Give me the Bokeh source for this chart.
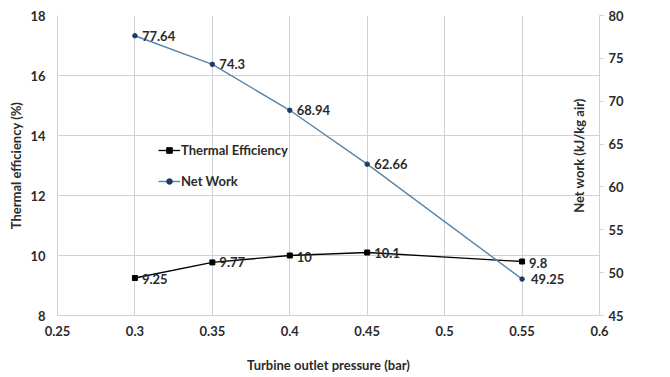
from bokeh.plotting import figure
from bokeh.models import Range1d, LinearAxis, FixedTicker, Legend, LegendItem, Label
from bokeh.core.properties import value
from bokeh.embed import file_html
from bokeh.resources import INLINE
import math

pressure = [0.3, 0.35, 0.4, 0.45, 0.55]
thermal_eff = [9.25, 9.77, 10, 10.1, 9.8]
net_work = [77.64, 74.3, 68.94, 62.66, 49.25]
thermal_labels = ["9.25", "9.77", "10", "10.1", "9.8"]
net_labels = ["77.64", "74.3", "68.94", "62.66", "49.25"]

x_ticks = [0.25, 0.3, 0.35, 0.4, 0.45, 0.5, 0.55, 0.6]
x_tick_labels = ["0.25", "0.3", "0.35", "0.4", "0.45", "0.5", "0.55", "0.6"]
left_ticks = [8, 10, 12, 14, 16, 18]
right_ticks = [45, 50, 55, 60, 65, 70, 75, 80]

FONT = "Lato"
FS = "13px"
TXT = "#2b2b2b"
GRID = "#c8d3dc"
BLUE = "#5a84a6"
NAVY = "#1f3a66"

p = figure(width=670, height=377, output_backend="svg", toolbar_location=None,
           x_range=Range1d(0.25, 0.6), y_range=Range1d(8, 18),
           min_border_left=57, min_border_right=71, min_border_top=15, min_border_bottom=62,
           background_fill_color="white", border_fill_color="white")
p.outline_line_alpha = 0
p.extra_y_ranges = {"nw": Range1d(45, 80)}

# grids
p.xgrid.ticker = FixedTicker(ticks=x_ticks)
p.ygrid.ticker = FixedTicker(ticks=left_ticks)
for g in (p.xgrid, p.ygrid):
    g.grid_line_color = GRID
    g.grid_line_width = 1

# bottom axis
xa = p.xaxis[0]
xa.ticker = FixedTicker(ticks=x_ticks)
xa.major_label_overrides = {t: l for t, l in zip(x_ticks, x_tick_labels)}
xa.axis_label = "Turbine outlet pressure (bar)"
xa.axis_label_standoff = 18
xa.major_label_standoff = 10

# left axis
ya = p.yaxis[0]
ya.ticker = FixedTicker(ticks=left_ticks)
ya.axis_label = "Thermal efficiency (%)"
ya.axis_label_standoff = 3
ya.major_label_standoff = 12

# right axis
ra = LinearAxis(y_range_name="nw", ticker=FixedTicker(ticks=right_ticks))
ra.major_label_standoff = 5
p.add_layout(ra, "right")

for ax in (xa, ya, ra):
    ax.axis_line_color = GRID
    ax.major_tick_line_color = GRID
    ax.minor_tick_line_color = None
    ax.major_label_text_font = FONT
    ax.major_label_text_font_style = "bold"
    ax.major_label_text_font_size = FS
    ax.major_label_text_color = TXT
    ax.axis_label_text_font = FONT
    ax.axis_label_text_font_style = "bold"
    ax.axis_label_text_font_size = FS
    ax.axis_label_text_color = TXT
xa.major_tick_in = 0
xa.major_tick_out = 0
ya.major_tick_in = 0
ya.major_tick_out = 0
ra.major_tick_in = 0
ra.major_tick_out = 4

# right axis title (inside the plot area as in the reference)
p.add_layout(Label(x=0.5868, y=13.33, text="Net work (kJ/kg air)", angle=math.pi / 2,
                   text_align="center", text_baseline="middle", text_font=FONT,
                   text_font_style="bold", text_font_size=FS, text_color=TXT))

# series
te_line = p.line(pressure, thermal_eff, line_color="black", line_width=1.3)
te_pts = p.scatter(pressure, thermal_eff, marker="square", size=5, fill_color="black", line_color="black")
nw_line = p.line(pressure, net_work, line_color=BLUE, line_width=1.4, y_range_name="nw")
nw_pts = p.scatter(pressure, net_work, marker="circle", size=4.5, fill_color=NAVY, line_color=NAVY,
                   y_range_name="nw")

p.text(pressure, thermal_eff, text=thermal_labels, x_offset=7, y_offset=[1, 0, 1, 0, 1],
       text_font=value(FONT), text_font_style="bold", text_font_size=FS, text_color=TXT,
       text_baseline="middle", text_align="left")
p.text(pressure, net_work, text=net_labels, x_offset=[7, 7, 7, 7, 9], y_offset=0, y_range_name="nw",
       text_font=value(FONT), text_font_style="bold", text_font_size=FS, text_color=TXT,
       text_baseline="middle", text_align="left")

legend = Legend(items=[LegendItem(label="Thermal Efficiency", renderers=[te_line, te_pts]),
                       LegendItem(label="Net Work", renderers=[nw_line, nw_pts])],
                location=(101, 124), orientation="vertical")
legend.background_fill_alpha = 0
legend.border_line_alpha = 0
legend.padding = 0
legend.margin = 0
legend.spacing = 11
legend.glyph_width = 22
legend.glyph_height = 14
legend.label_height = 20
legend.label_standoff = 1
legend.label_text_font = FONT
legend.label_text_font_style = "bold"
legend.label_text_font_size = FS
legend.label_text_color = TXT
p.add_layout(legend, "center")

open("out.html", "w").write(file_html(p, INLINE))
